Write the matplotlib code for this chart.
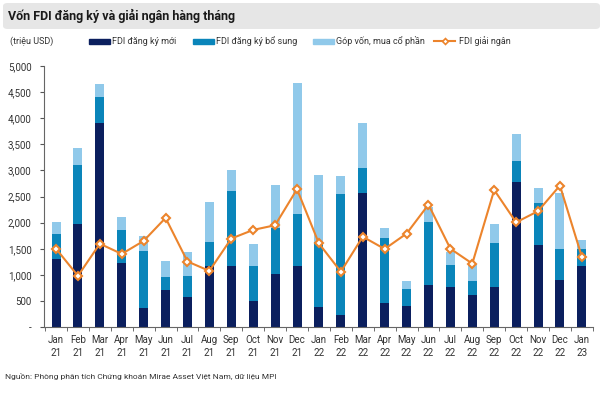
import numpy as np
import matplotlib
matplotlib.use("Agg")
import matplotlib.pyplot as plt
from matplotlib.patches import Rectangle, FancyBboxPatch
from matplotlib.lines import Line2D

plt.rcParams['font.family'] = ['Roboto', 'DejaVu Sans']

# data (triệu USD)
months = ["Jan\n21", "Feb\n21", "Mar\n21", "Apr\n21", "May\n21", "Jun\n21",
          "Jul\n21", "Aug\n21", "Sep\n21", "Oct\n21", "Nov\n21", "Dec\n21",
          "Jan\n22", "Feb\n22", "Mar\n22", "Apr\n22", "May\n22", "Jun\n22",
          "Jul\n22", "Aug\n22", "Sep\n22", "Oct\n22", "Nov\n22", "Dec\n22",
          "Jan\n23"]
new_reg = [1305, 1975, 3900, 1220, 360, 710, 570, 1175, 1160, 505, 1025, 1165,
           380, 225, 2575, 465, 400, 810, 760, 605, 760, 2785, 1580, 905, 1175]
# cumulative tops of the 2nd and 3rd segments
top_add = [1790, 3110, 4400, 1860, 1465, 965, 985, 1620, 2600, 1165, 1890, 2170,
           1630, 2555, 3045, 1700, 730, 2020, 1190, 890, 1600, 3180, 2370, 1495, 1495]
top_total = [2010, 3430, 4660, 2115, 1735, 1265, 1440, 2390, 3015, 1585, 2715, 4680,
             2920, 2885, 3905, 1890, 890, 2290, 1440, 1200, 1970, 3700, 2665, 2575, 1670]
disbursed = [1500, 980, 1595, 1400, 1650, 2090, 1255, 1075, 1695, 1860, 1950, 2640,
             1600, 1060, 1730, 1495, 1790, 2345, 1500, 1215, 2625, 2005, 2220, 2710, 1345]

add_reg = [a - b for a, b in zip(top_add, new_reg)]
equity = [c - a for c, a in zip(top_total, top_add)]

labels = ["FDI đăng ký mới", "FDI đăng ký bổ sung", "Góp vốn, mua cổ phần", "FDI giải ngân"]
c_dark = "#0b1f5e"
c_mid = "#0a85ba"
c_light = "#90c9ea"
c_orange = "#ec842c"

fig = plt.figure(figsize=(6, 3.94), dpi=100)
ax = fig.add_axes([0.0733, 0.170, 0.9147, 0.6625])

x = np.arange(len(months))
w = 0.41
ax.bar(x, new_reg, w, color=c_dark)
ax.bar(x, add_reg, w, bottom=new_reg, color=c_mid)
ax.bar(x, equity, w, bottom=top_add, color=c_light)
ax.plot(x, disbursed, color=c_orange, lw=1.5, marker="D", ms=4.5,
        mfc="white", mec=c_orange, mew=1.5, zorder=5)

ax.set_xlim(-0.55, len(months) - 0.5)
ax.set_ylim(0, 5000)
ax.set_yticks(np.arange(0, 5001, 500))
ax.set_yticklabels(["-"] + [f"{v:,}" for v in range(500, 5001, 500)])
ax.set_xticks(x)
ax.set_xticklabels(months, fontsize=7, color="#333333", linespacing=1.3)
ax.set_xticks(np.arange(-0.5, len(months), 1), minor=True)
ax.tick_params(axis="x", which="major", length=0, pad=6)
ax.tick_params(axis="x", which="minor", length=3, color="#555555", direction="out")
ax.tick_params(axis="y", length=3, color="#555555", labelsize=7, labelcolor="#333333", pad=6)
for s in ["top", "right"]:
    ax.spines[s].set_visible(False)
ax.spines["left"].set_color("#666666")
ax.spines["bottom"].set_color("#666666")
ax.spines["left"].set_linewidth(0.8)
ax.spines["bottom"].set_linewidth(0.8)

# title bar
H = 394.0
W = 600.0
fig.patches.append(FancyBboxPatch((3 / W, 1 - 29 / H), 597 / W, 26 / H,
                                  boxstyle="round,pad=0,rounding_size=0.008",
                                  transform=fig.transFigure, facecolor="#e6e6e6",
                                  edgecolor="none"))
fig.text(8 / W, 1 - 16 / H, "Vốn FDI đăng ký và giải ngân hàng tháng",
         fontsize=9, fontweight="bold", va="center", color="#1a1a1a")

# legend row
ly = 1 - 41 / H
fig.text(10 / W, ly, "(triệu USD)", fontsize=6.5, va="center", color="#333333")
patch_x = [89, 193, 313]
for px, col, lab in zip(patch_x, [c_dark, c_mid, c_light], labels[:3]):
    fig.patches.append(Rectangle((px / W, ly - 2.5 / H), 21 / W, 5 / H,
                                 transform=fig.transFigure, color=col))
    fig.text((px + 23) / W, ly, lab, fontsize=6.5, va="center", color="#333333")
fig.lines.append(Line2D([434 / W, 455 / W], [ly, ly], transform=fig.transFigure,
                        color=c_orange, lw=1.5))
fig.lines.append(Line2D([444.5 / W], [ly], transform=fig.transFigure, marker="D", ms=3,
                        mfc="white", mec=c_orange, mew=1.2))
fig.text(459 / W, ly, labels[3], fontsize=6.5, va="center", color="#333333")

fig.text(5 / W, 1 - 376 / H,
         "Nguồn: Phòng phân tích Chứng khoán Mirae Asset Việt Nam, dữ liệu MPI",
         fontsize=6, va="center", color="#333333")

fig.savefig("out.png", dpi=100)
